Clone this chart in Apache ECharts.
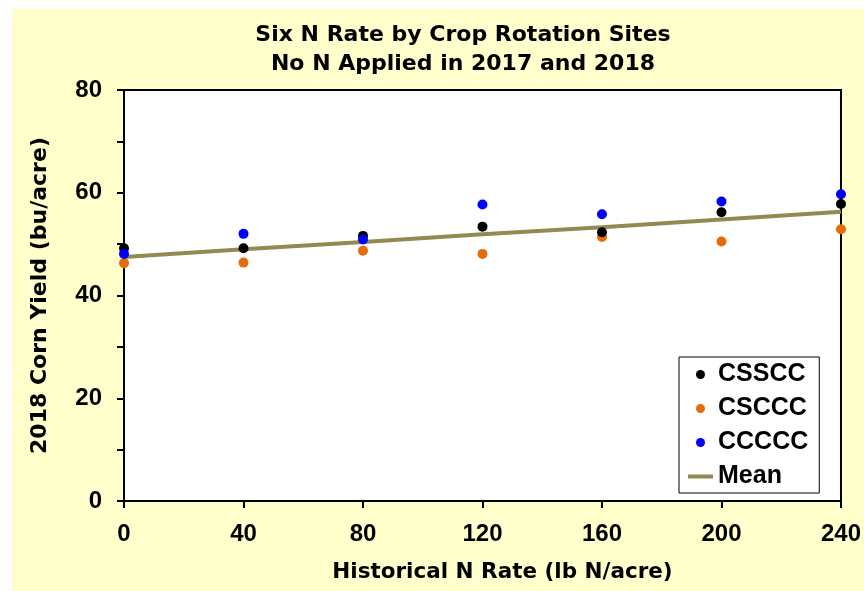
<!DOCTYPE html>
<html>
<head>
<meta charset="utf-8">
<script src="https://cdn.jsdelivr.net/npm/echarts@6/dist/echarts.min.js"></script>
<style>
  html, body { margin: 0; padding: 0; background: #ffffff; }
  #chart { position: absolute; left: 12px; top: 9px; width: 852px; height: 582px; }
</style>
</head>
<body>
<div id="chart"></div>
<script>
// historical N rate (lb N/acre)
var nRates = [0, 40, 80, 120, 160, 200, 240];
// 2018 corn yield (bu/acre) per rotation
var cssccYield = [49.2, 49.2, 51.6, 53.4, 52.3, 56.2, 57.8];
var csccYield = [46.3, 46.4, 48.7, 48.1, 51.4, 50.5, 52.9];
var cccccYield = [48.1, 52.0, 50.9, 57.7, 55.8, 58.3, 59.7];
var meanYield = [47.5, 49.0, 50.4, 51.9, 53.3, 54.8, 56.3];

var FONT = '"Liberation Sans", Arial, sans-serif';
var WIDE = '"DejaVu Sans", sans-serif';

function pairs(ys) {
    return nRates.map(function (x, i) { return [x, ys[i]]; });
}

var chart = echarts.init(document.getElementById('chart'));

var option = {
    backgroundColor: '#FFFFCC',
    animation: false,
    title: {
        text: 'Six N Rate by Crop Rotation Sites\nNo N Applied in 2017 and 2018',
        left: 446,
        textAlign: 'center',
        top: 7,
        textStyle: {
            fontFamily: WIDE,
            fontSize: 22,
            fontWeight: 'bold',
            color: '#000',
            lineHeight: 29
        }
    },
    grid: {
        left: 112,
        right: 17,
        top: 81,
        bottom: 90,
        show: true,
        backgroundColor: '#ffffff',
        borderColor: '#000000',
        borderWidth: 2
    },
    legend: {
        orient: 'vertical',
        left: 667,
        top: 348,
        backgroundColor: '#ffffff',
        borderColor: '#000000',
        borderWidth: 1,
        borderRadius: 0,
        padding: [5, 11, 4, 9],
        itemGap: 9,
        itemWidth: 25,
        itemHeight: 9,
        textStyle: {
            fontFamily: FONT,
            fontSize: 25,
            fontWeight: 'bold',
            color: '#000'
        },
        data: [
            'CSSCC', 'CSCCC', 'CCCCC',
            { name: 'Mean', icon: 'path://M0,0 L25,0 L25,4 L0,4 Z' }
        ]
    },
    xAxis: {
        type: 'value',
        min: 0,
        max: 240,
        interval: 40,
        name: 'Historical N Rate (lb N/acre)',
        nameLocation: 'middle',
        nameGap: 60,
        nameTextStyle: {
            fontFamily: WIDE,
            fontSize: 21.5,
            fontWeight: 'bold',
            color: '#000',
            padding: [0, 0, 0, 40]
        },
        axisLine: { show: true, lineStyle: { color: '#000', width: 2 } },
        axisTick: { show: true, inside: false, length: 7, lineStyle: { color: '#000', width: 2 } },
        axisLabel: {
            margin: 21,
            fontFamily: FONT,
            fontSize: 24,
            fontWeight: 'bold',
            color: '#000'
        },
        splitLine: { show: false }
    },
    yAxis: {
        type: 'value',
        min: 0,
        max: 80,
        interval: 10,
        name: '2018 Corn Yield (bu/acre)',
        nameLocation: 'middle',
        nameGap: 73,
        nameTextStyle: {
            fontFamily: WIDE,
            fontSize: 22,
            fontWeight: 'bold',
            color: '#000'
        },
        axisLine: { show: true, lineStyle: { color: '#000', width: 2 } },
        axisTick: { show: true, inside: false, length: 7, lineStyle: { color: '#000', width: 2 } },
        axisLabel: {
            margin: 22,
            fontFamily: FONT,
            fontSize: 24,
            fontWeight: 'bold',
            color: '#000',
            formatter: function (v) { return v % 20 === 0 ? String(v) : ''; }
        },
        splitLine: { show: false }
    },
    series: [
        {
            name: 'Mean',
            type: 'line',
            data: pairs(meanYield),
            symbol: 'none',
            z: 1,
            lineStyle: { color: '#938953', width: 4 },
            itemStyle: { color: '#938953' }
        },
        {
            name: 'CSSCC',
            type: 'scatter',
            data: pairs(cssccYield),
            symbolSize: 10,
            z: 3,
            itemStyle: { color: '#000000', opacity: 1 }
        },
        {
            name: 'CSCCC',
            type: 'scatter',
            data: pairs(csccYield),
            symbolSize: 10,
            z: 2,
            itemStyle: { color: '#E46C0A', opacity: 1 }
        },
        {
            name: 'CCCCC',
            type: 'scatter',
            data: pairs(cccccYield),
            symbolSize: 10,
            z: 4,
            itemStyle: { color: '#0000FF', opacity: 1 }
        }
    ]
};

chart.setOption(option);
</script>
</body>
</html>
